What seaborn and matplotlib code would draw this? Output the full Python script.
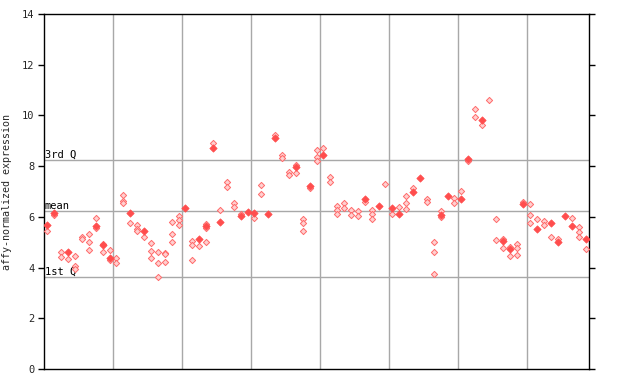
import matplotlib
matplotlib.use("Agg")
import matplotlib.pyplot as plt
import seaborn as sns
import pandas as pd

# sample index, value of the highlighted (filled) point per sample
filled_samples = [0, 1, 3, 7, 8, 9, 12, 14, 20, 22, 23, 24, 25, 28, 29, 30, 32, 33, 36, 38, 40,
                  46, 48, 50, 51, 53, 54, 57, 58, 60, 61, 63, 66, 67, 69, 71, 73, 74, 75, 76, 78]
filled_values = [5.69, 6.16, 4.63, 5.65, 4.89, 4.39, 6.16, 5.43, 6.34, 5.14, 5.65, 8.73, 5.81, 6.02, 6.19, 6.16, 6.12, 9.10, 7.95, 7.22, 8.44,
                 6.70, 6.43, 6.36, 6.12, 6.99, 7.52, 6.07, 6.82, 6.72, 8.27, 9.83, 5.05, 4.73, 6.49, 5.53, 5.77, 5.02, 6.04, 5.65, 5.13]

hollow_samples = [0, 1, 2, 2, 3, 4, 4, 4, 5, 5, 6, 6, 6, 7, 7, 8, 8, 9, 9, 10, 10,
                  11, 11, 11, 12, 13, 13, 13, 14, 15, 15, 15, 16, 16, 16, 17, 17, 17, 18, 18, 18,
                  19, 19, 19, 21, 21, 21, 22, 23, 23, 23, 24, 25, 26, 26, 27, 27, 28, 30, 31, 31,
                  33, 34, 34, 35, 35, 36, 36, 37, 37, 37, 38, 39, 39, 39, 40, 41, 41, 42, 42, 42,
                  43, 43, 44, 44, 45, 45, 46, 47, 47, 47, 49, 50, 51, 52, 52, 52, 53, 55, 55,
                  56, 56, 56, 57, 57, 59, 59, 60, 61, 62, 62, 63, 64, 65, 65, 66, 66, 67, 67,
                  68, 68, 68, 69, 70, 70, 70, 71, 72, 72, 73, 74, 76, 77, 77, 77, 78]
hollow_values = [5.43, 6.06, 4.60, 4.43, 4.33, 4.46, 4.06, 3.94, 5.19, 5.11, 5.34, 5.00, 4.69, 5.94, 5.57, 4.92, 4.60, 4.68, 4.30, 4.38, 4.19,
                 6.85, 6.62, 6.56, 5.76, 5.68, 5.53, 5.45, 5.22, 4.96, 4.67, 4.38, 4.63, 4.17, 3.62, 4.59, 4.52, 4.22, 5.78, 5.32, 5.00,
                 6.03, 5.86, 5.68, 5.05, 4.89, 4.31, 4.84, 5.71, 5.57, 5.00, 8.92, 6.26, 7.36, 7.16, 6.55, 6.38, 6.12, 5.94, 7.26, 6.89,
                 9.22, 8.44, 8.31, 7.78, 7.65, 8.04, 7.72, 5.90, 5.75, 5.43, 7.13, 8.64, 8.35, 8.20, 8.70, 7.56, 7.39, 6.42, 6.26, 6.12,
                 6.53, 6.34, 6.27, 6.07, 6.24, 6.04, 6.57, 6.26, 6.10, 5.90, 7.30, 6.11, 6.39, 6.81, 6.53, 6.30, 7.13, 6.70, 6.60,
                 5.00, 4.60, 3.73, 6.24, 5.98, 6.73, 6.53, 7.01, 8.20, 10.25, 9.95, 9.61, 10.60, 5.90, 5.07, 5.14, 4.76, 4.80, 4.44,
                 4.92, 4.76, 4.48, 6.57, 6.51, 6.06, 5.76, 5.90, 5.82, 5.67, 5.19, 5.13, 5.94, 5.59, 5.40, 5.19, 4.72]

n_samples = 79
ref_labels = ["3rd Q", "mean", "1st Q"]
ref_values = [8.23, 6.23, 3.63]
y_ticks = [0, 2, 4, 6, 8, 10, 12, 14]

df_f = pd.DataFrame({"x": [s + 0.5 for s in filled_samples], "y": filled_values})
df_h = pd.DataFrame({"x": [s + 0.5 for s in hollow_samples], "y": hollow_values})

sns.set_style("white")
plt.rcParams["font.family"] = ["DejaVu Sans Mono"]

fig = plt.figure(figsize=(6.4, 3.84), dpi=100)
ax = fig.add_axes([44 / 640, 15 / 384, 545 / 640, 355 / 384])

# grid
for gx in range(10, n_samples, 10):
    ax.axvline(gx, color="#a8a8a8", lw=1, zorder=1)
for lab, v in zip(ref_labels, ref_values):
    ax.axhline(v, color="#a8a8a8", lw=1, zorder=1)
    ax.text(0.1, v + 0.02, lab, fontsize=7.5, color="black", ha="left", va="bottom", zorder=3)

sns.scatterplot(data=df_h, x="x", y="y", ax=ax, marker="D", s=10, color="#ffd0d0",
                edgecolor="#ff6a6a", linewidth=0.7, zorder=4, legend=False)
sns.scatterplot(data=df_f, x="x", y="y", ax=ax, marker="D", s=14, color="#ff4d4d",
                edgecolor="#ff4d4d", linewidth=0.5, zorder=5, legend=False)

ax.set_xlim(0, n_samples)
ax.set_ylim(0, 14)
ax.set_yticks(y_ticks)
ax.set_yticklabels([str(t) for t in y_ticks], fontsize=7.5)
ax.set_xticks([])
ax.set_xlabel("")
ax.set_ylabel("affy-normalized expression", fontsize=7.2, labelpad=7)
ax.tick_params(axis="y", which="both", direction="out", length=4, width=1, color="black",
               left=True, right=True, labelleft=True, labelright=False, pad=3)
for sp in ax.spines.values():
    sp.set_visible(True)
    sp.set_color("black")
    sp.set_linewidth(1)

fig.savefig("out.png", dpi=100)
